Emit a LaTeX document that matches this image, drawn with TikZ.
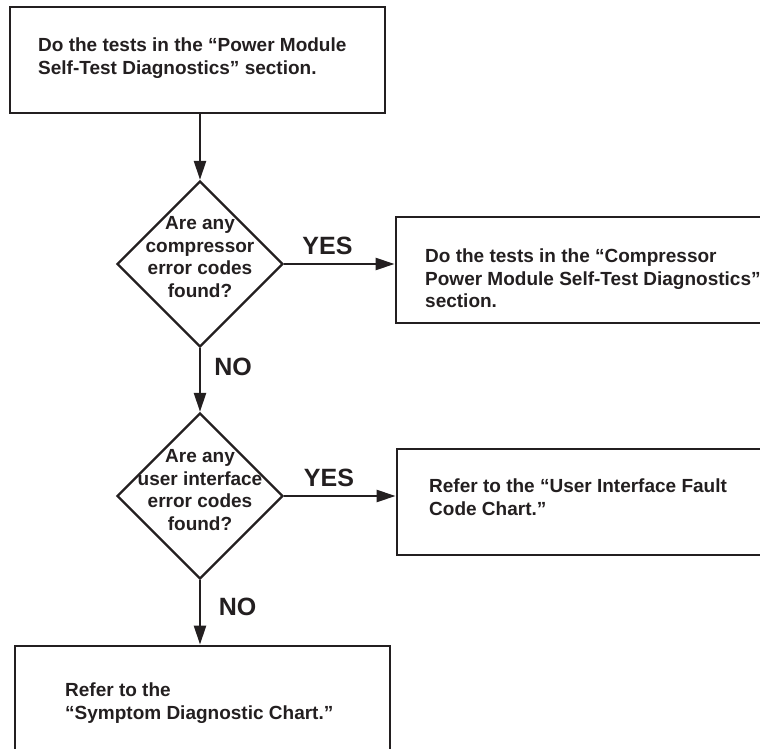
\documentclass[tikz,border=0pt]{standalone}
\usepackage{fontspec}
\setmainfont{Liberation Sans}
\usetikzlibrary{shapes.geometric,arrows.meta}
\definecolor{ink}{RGB}{35,31,32}
\begin{document}
\begin{tikzpicture}[x=1pt,y=-1pt,
  boxframe/.style={draw=ink, line width=2.8pt, rectangle, inner sep=0pt},
  decision/.style={draw=ink, line width=2.3pt, diamond, inner sep=0pt,
    minimum width=166pt, minimum height=166pt},
  boxtext/.style={anchor=north west, inner sep=0pt, align=left, text=ink,
    font=\fontsize{19}{22.5}\selectfont\bfseries},
  asktext/.style={inner sep=0pt, align=center, text=ink,
    font=\fontsize{19}{22.5}\selectfont\bfseries},
  answer/.style={inner sep=0pt, text=ink, font=\fontsize{25}{28}\selectfont\bfseries},
  flow/.style={draw=ink, line width=2.3pt, -{Triangle[length=19pt,width=12pt]}}]
\useasboundingbox (0,0) rectangle (760,749);
\clip (0,0) rectangle (760,749);

% process boxes (the right-hand and bottom boxes run past the page edge)
\node[boxframe, minimum width=375pt, minimum height=106pt] (start) at (197.5,60) {};
\node[boxframe, minimum width=379pt, minimum height=106pt] (comp) at (585.5,270) {};
\node[boxframe, minimum width=378pt, minimum height=106pt] (uifault) at (586,502) {};
\node[boxframe, minimum width=375pt, minimum height=119pt] (symptom) at (202.5,705.5) {};

\node[boxtext] (starttxt) at (38,38) {Do the tests in the “Power Module\\Self-Test Diagnostics” section.};
\node[boxtext] (comptxt) at (425,249) {Do the tests in the “Compressor\\Power Module Self-Test Diagnostics”\\section.};
\node[boxtext] (uifaulttxt) at (429,479) {Refer to the “User Interface Fault\\Code Chart.”};
\node[boxtext] (symptomtxt) at (65,683) {Refer to the\\“Symptom Diagnostic Chart.”};

% decisions
\node[decision] (q1) at (200,264) {};
\node[decision] (q2) at (200,496) {};
\node[asktext] (q1txt) at (200,257) {Are any\\compressor\\error codes\\found?};
\node[asktext] (q2txt) at (200,490) {Are any\\user interface\\error codes\\found?};

% connectors
\draw[flow] (start.south -| q1.north) -- (q1.north);
\draw[flow] (q1.east) -- (q1.east -| comp.west);
\draw[flow] (q1.south) -- (q2.north);
\draw[flow] (q2.east) -- (q2.east -| uifault.west);
\draw[flow] (q2.south) -- (q2.south |- symptom.north);

% branch labels
\node[answer] (yes1) at (327.5,245.5) {YES};
\node[answer] (no1) at (233,367) {NO};
\node[answer] (yes2) at (329,478) {YES};
\node[answer] (no2) at (237.5,607) {NO};
\end{tikzpicture}
\end{document}
